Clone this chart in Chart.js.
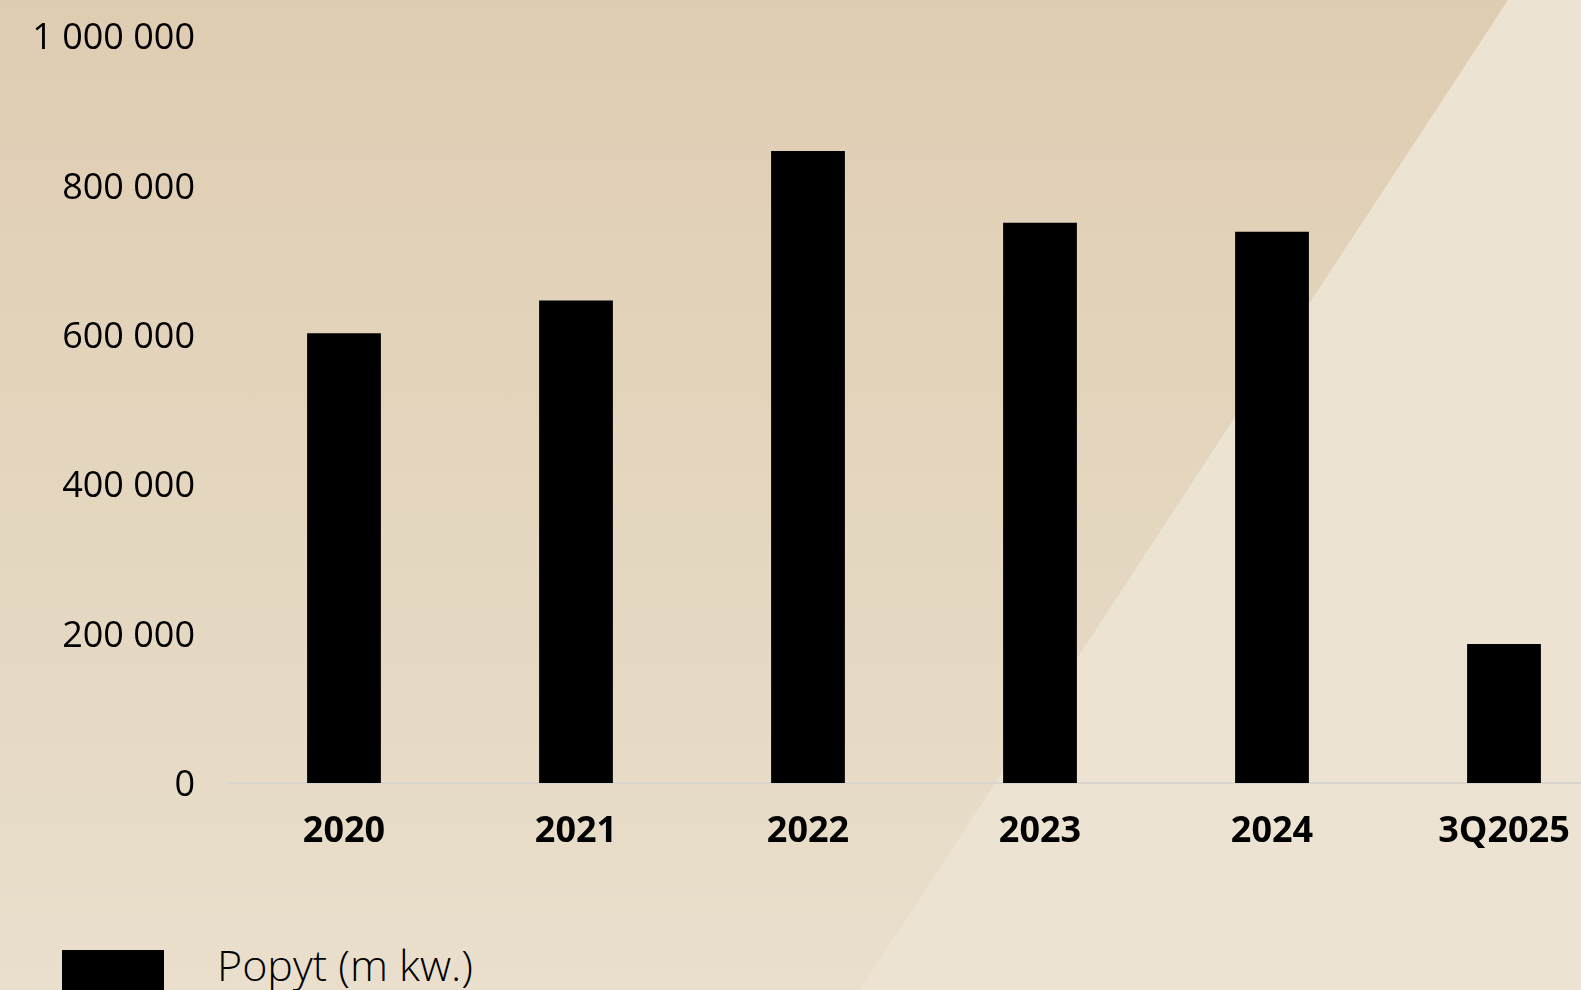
<!DOCTYPE html>
<html>
<head>
<meta charset="utf-8">
<script src="https://cdn.jsdelivr.net/npm/chart.js@4"></script>
<style>
  html, body { margin: 0; padding: 0; width: 1581px; height: 990px; overflow: hidden; }
  body { position: relative; background: linear-gradient(to bottom, #dfcdb2 0%, #e9dfcc 100%); font-family: "Open Sans", sans-serif; }
  .wedge { position: absolute; left: 0; top: 0; width: 1581px; height: 990px; background: #ede3d2;
           clip-path: polygon(1508px 0, 1581px 0, 1581px 990px, 860px 990px); }
  .wrap { position: absolute; left: 0; top: 0; width: 1620px; height: 880px; }
  #legend { position: absolute; left: 0; top: 0; }
  .leg-box { position: absolute; left: 62px; top: 950px; width: 102px; height: 45px; }
  .leg-text { position: absolute; left: 217px; top: 943px; font-size: 43px; font-weight: 300; line-height: 1; white-space: nowrap; color: #000; }
</style>
</head>
<body>
<div class="wedge"></div>
<div class="wrap"><canvas id="chart" width="1620" height="880"></canvas></div>
<div id="legend"></div>
<script>
  // Popyt na powierzchnie (m kw.)
  const categories = ['2020', '2021', '2022', '2023', '2024', '3Q2025'];
  const demand = [602000, 646000, 846000, 750000, 738000, 186000];
  const yTicks = [0, 200000, 400000, 600000, 800000, 1000000];

  const fmt = v => String(v).replace(/\B(?=(\d{3})+(?!\d))/g, ' ');

  // simple html legend built from the chart's own legend items
  const htmlLegend = {
    id: 'htmlLegend',
    afterUpdate(chart) {
      const box = document.getElementById('legend');
      box.innerHTML = '';
      chart.options.plugins.legend.labels.generateLabels(chart).forEach(item => {
        const sw = document.createElement('div');
        sw.className = 'leg-box';
        sw.style.background = item.fillStyle;
        const tx = document.createElement('div');
        tx.className = 'leg-text';
        tx.textContent = item.text;
        box.appendChild(sw);
        box.appendChild(tx);
      });
    }
  };

  new Chart(document.getElementById('chart'), {
    type: 'bar',
    data: {
      labels: categories,
      datasets: [{
        label: 'Popyt (m kw.)',
        data: demand,
        backgroundColor: '#000000',
        barPercentage: 0.318,
        categoryPercentage: 1
      }]
    },
    options: {
      responsive: false,
      animation: false,
      layout: { padding: { top: 36, left: 0, right: 0, bottom: 0 } },
      plugins: {
        legend: { display: false },
        tooltip: { enabled: false }
      },
      scales: {
        x: {
          grid: { display: false },
          border: { display: true, color: '#d9d5cd', width: 2 },
          ticks: {
            color: '#000',
            padding: 19,
            font: { family: 'Open Sans', size: 36, weight: 'bold' }
          },
          afterFit: s => { s.height = 97; s.paddingLeft = 0; s.paddingRight = 0; }
        },
        y: {
          min: 0,
          max: 1000000,
          grid: { display: false },
          border: { display: false },
          afterBuildTicks: s => { s.ticks = yTicks.map(v => ({ value: v })); },
          ticks: {
            color: '#000',
            padding: 25,
            labelOffset: 3,
            font: { family: 'Open Sans', size: 36 },
            callback: v => fmt(v)
          },
          afterFit: s => { s.width = 228; s.paddingTop = 0; s.paddingBottom = 0; }
        }
      }
    },
    plugins: [htmlLegend]
  });
</script>
</body>
</html>
